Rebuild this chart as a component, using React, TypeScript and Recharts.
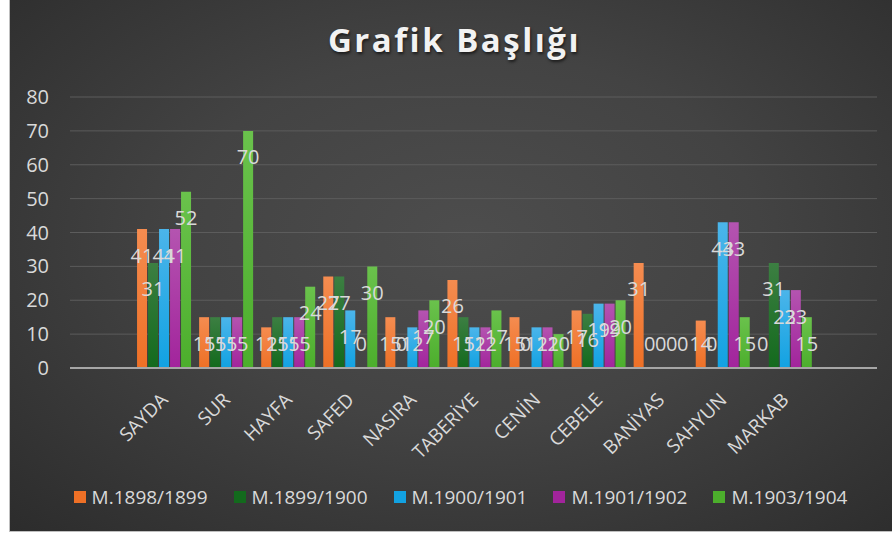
import { Bar, BarChart, CartesianGrid, LabelList, Legend, XAxis, YAxis } from 'recharts'

// blank slots at both ends, like the source sheet
const regions = ['', 'SAYDA', 'SUR', 'HAYFA', 'SAFED', 'NASIRA', 'TABERİYE', 'CENİN', 'CEBELE', 'BANİYAS', 'SAHYUN', 'MARKAB', '']

const y1898 = [null, 41, 15, 12, 27, 15, 26, 15, 17, 31, 14, 0, null]
const y1899 = [null, 31, 15, 15, 27, 0, 15, 0, 16, 0, 0, 31, null]
const y1900 = [null, 41, 15, 15, 17, 12, 12, 12, 19, 0, 43, 23, null]
const y1901 = [null, 41, 15, 15, 0, 17, 12, 12, 19, 0, 43, 23, null]
const y1903 = [null, 52, 70, 24, 30, 20, 17, 10, 20, 0, 15, 15, null]

const yTicks = [0, 10, 20, 30, 40, 50, 60, 70, 80]

const series = [
  { key: 'a', name: 'M.1898/1899', values: y1898, color: '#ee7026', top: '#f58c50' },
  { key: 'b', name: 'M.1899/1900', values: y1899, color: '#136a1d', top: '#3c7f42' },
  { key: 'c', name: 'M.1900/1901', values: y1900, color: '#12a2e2', top: '#4bb5ea' },
  { key: 'd', name: 'M.1901/1902', values: y1901, color: '#a2249c', top: '#b454b0' },
  { key: 'e', name: 'M.1903/1904', values: y1903, color: '#4cae2c', top: '#6ac24c' },
]

const data = regions.map((region, i) => {
  const row: Record<string, string | number | null> = { region }
  series.forEach((s) => {
    row[s.key] = s.values[i]
  })
  return row
})

const FONT = '"Open Sans", "DejaVu Sans", sans-serif'
const TEXT = '#d9d9d9'

function ValueLabel(props: any) {
  const { x, y, width, height, value } = props
  if (value === null || value === undefined) return null
  const base = y + height
  const cy = Math.min(y + 26, base - 25)
  return (
    <text x={x + width / 2} y={cy} fill={TEXT} fontSize={20} fontFamily={FONT} textAnchor="middle" dominantBaseline="central">
      {value}
    </text>
  )
}

function RegionTick(props: any) {
  const { x, y, payload } = props
  if (!payload.value) return null
  return (
    <g transform={`translate(${x + 6},${y + 25}) rotate(-45)`}>
      <text x={0} y={0} textAnchor="end" fill={TEXT} fontSize={19} fontFamily={FONT}>
        {payload.value}
      </text>
    </g>
  )
}

function LegendRow() {
  return (
    <div style={{ display: 'flex', justifyContent: 'center', gap: 26, fontFamily: FONT, fontSize: 19, color: TEXT, paddingLeft: 18 }}>
      {series.map((s) => (
        <div key={s.key} style={{ display: 'flex', alignItems: 'center' }}>
          <span style={{ display: 'inline-block', width: 12, height: 12, background: s.color, marginRight: 6 }} />
          <span>{s.name}</span>
        </div>
      ))}
    </div>
  )
}

export default function App() {
  return (
    <div
      style={{
        position: 'absolute',
        left: 9,
        top: 0,
        width: 883,
        height: 532,
        background: 'radial-gradient(ellipse at 52% 45%, #4d4d4d 0%, #434343 45%, #2c2c2c 100%)',
        borderLeft: '1px solid #bfbfbf',
        borderBottom: '1px solid #bfbfbf',
        boxSizing: 'border-box',
      }}
    >
      <div
        style={{
          position: 'absolute',
          top: 17,
          left: 3,
          width: 883,
          textAlign: 'center',
          fontFamily: FONT,
          fontWeight: 700,
          fontSize: 33,
          letterSpacing: 2.5,
          color: '#f2f2f2',
          textShadow: '1px 2px 3px rgba(0,0,0,0.6)',
        }}
      >
        Grafik Başlığı
      </div>
      <BarChart
        width={883}
        height={532}
        data={data}
        margin={{ top: 97, right: 16, bottom: 74, left: 0 }}
        barCategoryGap="8%"
        barGap={1}
      >
        <defs>
          {series.map((s) => (
            <linearGradient key={s.key} id={`g-${s.key}`} x1="0" y1="0" x2="0" y2="1">
              <stop offset="0%" stopColor={s.top} />
              <stop offset="100%" stopColor={s.color} />
            </linearGradient>
          ))}
        </defs>
        <CartesianGrid vertical={false} stroke="#5c5c5c" />
        <XAxis
          dataKey="region"
          height={90}
          interval={0}
          tick={<RegionTick />}
          tickLine={false}
          axisLine={{ stroke: '#a6a6a6', strokeWidth: 2 }}
        />
        <YAxis
          width={60}
          domain={[0, 80]}
          ticks={yTicks}
          axisLine={false}
          tickLine={false}
          tickSize={0}
          tickMargin={21}
          tick={{ fill: TEXT, fontSize: 20, fontFamily: FONT }}
        />
        <Legend
          verticalAlign="middle"
          align="center"
          wrapperStyle={{ top: 484, left: 0, width: 883 }}
          content={() => <LegendRow />}
        />
        {series.map((s) => (
          <Bar key={s.key} dataKey={s.key} name={s.name} fill={`url(#g-${s.key})`} minPointSize={0.01} isAnimationActive={false}>
            <LabelList dataKey={s.key} content={<ValueLabel />} />
          </Bar>
        ))}
      </BarChart>
    </div>
  )
}
